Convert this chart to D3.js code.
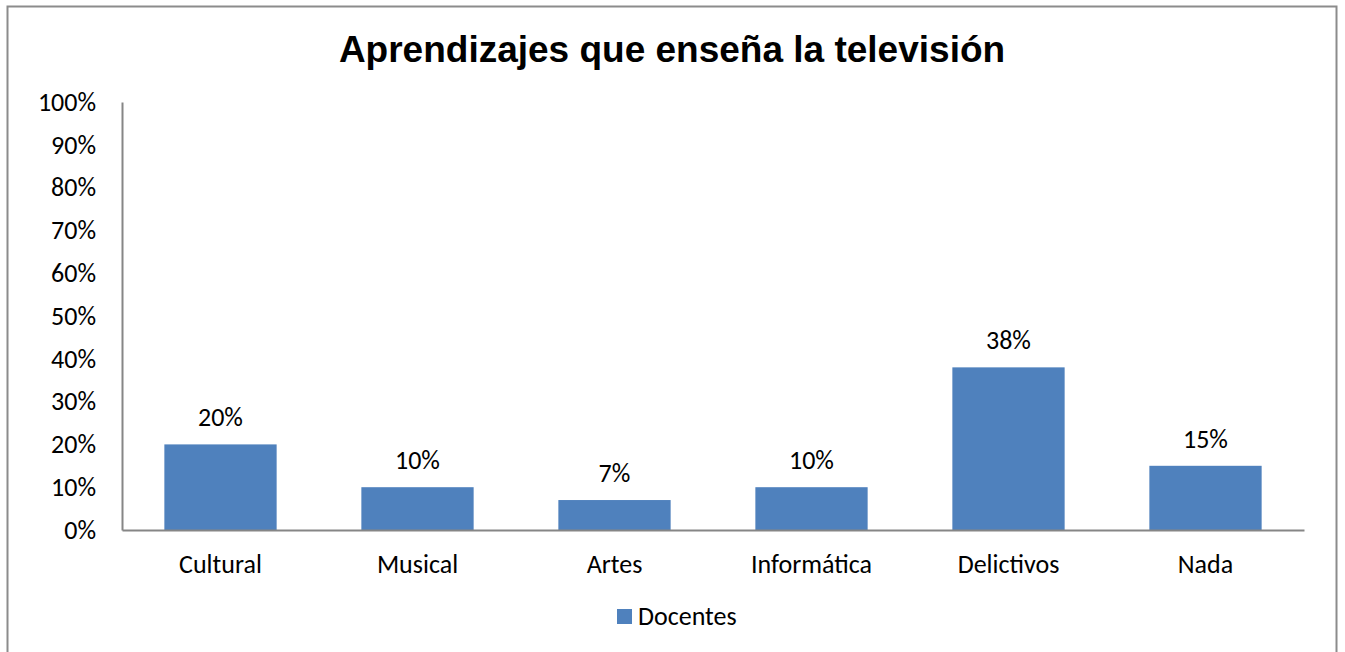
<!DOCTYPE html>
<html><head><meta charset="utf-8">
<script src="https://cdn.jsdelivr.net/npm/d3@7"></script>
<style>html,body{margin:0;padding:0;background:#fff;}svg{display:block;}</style>
</head><body>
<svg id="c" width="1345" height="652"></svg>
<script>
const categories = ["Cultural","Musical","Artes","Informática","Delictivos","Nada"];
const values = [20,10,7,10,38,15];
const yTicks = [0,10,20,30,40,50,60,70,80,90,100];
const seriesName = "Docentes";
const title = "Aprendizajes que enseña la televisión";

const svg = d3.select("#c");
const labelFont = "Carlito, Calibri, Lato, 'Noto Sans', sans-serif";
svg.append("rect").attr("x",7.5).attr("y",6.5).attr("width",1329).attr("height",660)
  .attr("fill","#fff").attr("stroke","#8c8c8c").attr("stroke-width",2);

const m = {left:122, right:1304, top:102, bottom:530};
const x = d3.scaleBand().domain(categories).range([m.left,m.right]).paddingInner(0.43).paddingOuter(0.215);
const y = d3.scaleLinear().domain([0,100]).range([m.bottom,m.top]);

svg.append("text").attr("x",672).attr("y",62).attr("text-anchor","middle")
  .attr("font-family","'Liberation Sans', Arial, sans-serif").attr("font-weight","bold")
  .attr("font-size",37).attr("fill","#000").text(title);

const yAxis = d3.axisLeft(y).tickValues(yTicks).tickSize(0).tickPadding(26).tickFormat(d=>d+"%");
const gy = svg.append("g").attr("transform",`translate(${m.left},0)`).call(yAxis);
gy.select(".domain").attr("stroke","#868686").attr("stroke-width",2);
gy.selectAll("text").attr("font-family",labelFont).attr("font-size",26).attr("fill","#000");

svg.selectAll("rect.bar").data(values).enter().append("rect").attr("class","bar")
  .attr("x",(d,i)=>x(categories[i])).attr("width",x.bandwidth())
  .attr("y",d=>y(d)).attr("height",d=>y(0)-y(d)).attr("fill","#4f81bd");

const xAxis = d3.axisBottom(x).tickSize(0).tickPadding(43);
const gx = svg.append("g").attr("transform",`translate(0,${m.bottom})`).call(xAxis);
gx.select(".domain").attr("stroke","#868686").attr("stroke-width",2);
gx.selectAll("text").attr("dy",null).attr("font-family",labelFont).attr("font-size",26).attr("fill","#000");

svg.selectAll("text.dl").data(values).enter().append("text").attr("class","dl")
  .attr("x",(d,i)=>x(categories[i])+x.bandwidth()/2).attr("y",d=>y(d)-18)
  .attr("text-anchor","middle").attr("font-family",labelFont).attr("font-size",26).attr("fill","#000")
  .text(d=>d+"%");

svg.append("rect").attr("x",617).attr("y",609).attr("width",15).attr("height",15).attr("fill","#4f81bd");
svg.append("text").attr("x",638).attr("y",625).attr("font-family",labelFont).attr("font-size",26)
  .attr("fill","#000").text(seriesName);
</script>
</body></html>
